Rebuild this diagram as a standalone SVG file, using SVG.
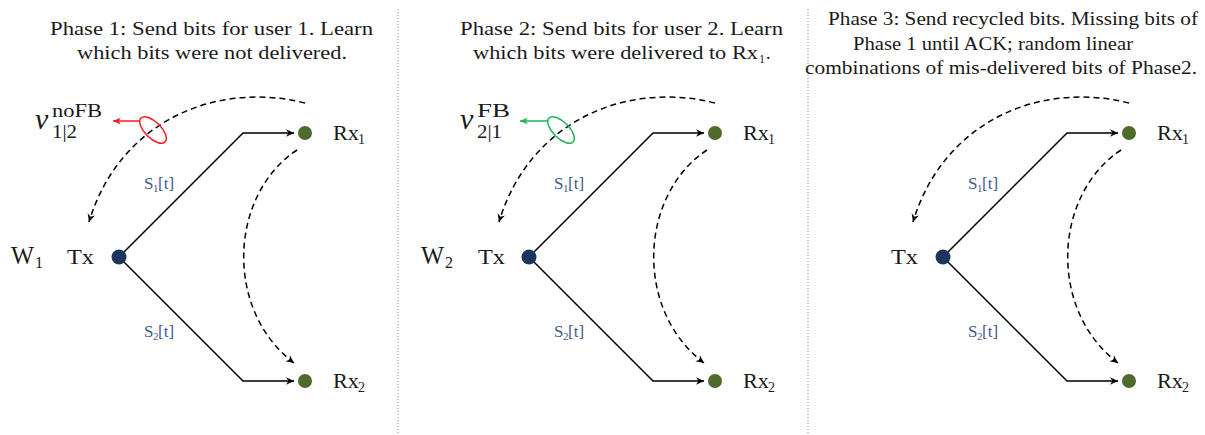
<svg xmlns="http://www.w3.org/2000/svg" width="1205" height="435" viewBox="0 0 1205 435">
<style>
  text { font-family: "Liberation Serif", "Times New Roman", serif; fill: #1a1a1a; }
  .title { font-size: 18px; }
  .lbl { font-size: 20px; }
  .sub { font-size: 14px; }
  .wsub { font-size: 16px; }
  .sl { font-size: 17px; fill: #3f5c8a; }
  .slsub { font-size: 11px; fill: #3f5c8a; }
  .vv { font-size: 30px; font-style: italic; }
  .vs { font-size: 19px; }
  .edge { fill: none; stroke: #000; stroke-width: 1.5; }
  .dash { fill: none; stroke: #000; stroke-width: 1.5; stroke-dasharray: 6 4; }
  .sep { fill: none; stroke: #8a8a8a; stroke-width: 1; stroke-dasharray: 1 2; }
  .tx { fill: #1b365d; }
  .rx { fill: #4f6a2d; }
</style>
<defs>
  <marker id="ah" viewBox="-10 -5 11 10" refX="0" refY="0" markerWidth="11" markerHeight="10" markerUnits="userSpaceOnUse" orient="auto">
    <path d="M0,0 L-8,-3.8 L-5.5,0 L-8,3.8 Z" fill="#000"/>
  </marker>
  <marker id="ahr" viewBox="-10 -5 11 10" refX="0" refY="0" markerWidth="11" markerHeight="10" markerUnits="userSpaceOnUse" orient="auto">
    <path d="M0,0 L-8,-3.5 L-5.5,0 L-8,3.5 Z" fill="#ff1a1a"/>
  </marker>
  <marker id="ahg" viewBox="-10 -5 11 10" refX="0" refY="0" markerWidth="11" markerHeight="10" markerUnits="userSpaceOnUse" orient="auto">
    <path d="M0,0 L-8,-3.5 L-5.5,0 L-8,3.5 Z" fill="#1fb25a"/>
  </marker>
</defs>

<g id="separators">
  <line class="sep" x1="398" y1="9" x2="398" y2="435"/>
  <line class="sep" x1="808" y1="9" x2="808" y2="435"/>
</g>

<g id="titles">
  <text class="title" x="50" y="35" textLength="323" lengthAdjust="spacingAndGlyphs">Phase 1: Send bits for user 1. Learn</text>
  <text class="title" x="77" y="59" textLength="270" lengthAdjust="spacingAndGlyphs">which bits were not delivered.</text>
  <text class="title" x="460" y="35" textLength="323" lengthAdjust="spacingAndGlyphs">Phase 2: Send bits for user 2. Learn</text>
  <text class="title" x="473" y="59" textLength="285" lengthAdjust="spacingAndGlyphs">which bits were delivered to Rx</text>
  <text class="title" x="759" y="63" style="font-size:12px">1</text>
  <text class="title" x="766" y="59">.</text>
  <text class="title" x="828" y="25" textLength="370" lengthAdjust="spacingAndGlyphs">Phase 3: Send recycled bits. Missing bits of</text>
  <text class="title" x="853" y="50" textLength="280" lengthAdjust="spacingAndGlyphs">Phase 1 until ACK; random linear</text>
  <text class="title" x="805" y="74" textLength="392" lengthAdjust="spacingAndGlyphs">combinations of mis-delivered bits of Phase2.</text>
</g>

<!-- ===== Panel 1 ===== -->
<g id="connectors-p1">
  <path class="edge" d="M119,257 L243,133 L294,133" marker-end="url(#ah)"/>
  <path class="edge" d="M119,257 L243,381 L294,381" marker-end="url(#ah)"/>
  <path class="dash" d="M305,103 C215,80.5 119,122 89,222" marker-end="url(#ah)"/>
  <path class="dash" d="M297,150 C229,195 224,310 294,363" marker-end="url(#ah)"/>
  <ellipse cx="153" cy="130" rx="17" ry="8" transform="rotate(45 153 130)" fill="none" stroke="#ff1a1a" stroke-width="1.5"/>
  <line x1="140" y1="121" x2="113" y2="121" stroke="#ff1a1a" stroke-width="1.5" marker-end="url(#ahr)"/>
</g>
<g id="p1-tx">
  <circle class="tx" cx="119" cy="257" r="7.5"/>
  <text class="lbl" x="67" y="264" textLength="27" lengthAdjust="spacingAndGlyphs">Tx</text>
</g>
<g id="p1-w">
  <text x="11" y="264" style="font-size:25px" textLength="23" lengthAdjust="spacingAndGlyphs">W</text>
  <text class="wsub" x="35" y="268">1</text>
</g>
<g id="p1-rx1">
  <circle class="rx" cx="305" cy="133" r="7"/>
  <text class="lbl" x="333" y="140" textLength="26" lengthAdjust="spacingAndGlyphs">Rx</text>
  <text class="sub" x="358" y="144">1</text>
</g>
<g id="p1-rx2">
  <circle class="rx" cx="305" cy="381" r="7"/>
  <text class="lbl" x="333" y="388" textLength="26" lengthAdjust="spacingAndGlyphs">Rx</text>
  <text class="sub" x="358" y="392">2</text>
</g>
<g id="p1-s1">
  <text class="sl" x="144" y="189">S</text><text class="slsub" x="153" y="192">1</text><text class="sl" x="158" y="189">[t]</text>
</g>
<g id="p1-s2">
  <text class="sl" x="144" y="337">S</text><text class="slsub" x="153" y="340">2</text><text class="sl" x="158" y="337">[t]</text>
</g>
<g id="p1-v">
  <text class="vv" x="35" y="129">v</text>
  <text class="vs" x="52" y="117" textLength="50" lengthAdjust="spacingAndGlyphs">noFB</text>
  <text class="vs" x="52" y="138" textLength="25" lengthAdjust="spacingAndGlyphs">1|2</text>
</g>

<!-- ===== Panel 2 ===== -->
<g id="connectors-p2">
  <path class="edge" d="M529,257 L653,133 L704,133" marker-end="url(#ah)"/>
  <path class="edge" d="M529,257 L653,381 L704,381" marker-end="url(#ah)"/>
  <path class="dash" d="M715,103 C625,80.5 529,122 499,222" marker-end="url(#ah)"/>
  <path class="dash" d="M707,150 C639,195 634,310 704,363" marker-end="url(#ah)"/>
  <ellipse cx="561" cy="130" rx="17" ry="8" transform="rotate(45 561 130)" fill="none" stroke="#1fb25a" stroke-width="1.5"/>
  <line x1="548" y1="121" x2="520" y2="121" stroke="#1fb25a" stroke-width="1.5" marker-end="url(#ahg)"/>
</g>
<g id="p2-tx">
  <circle class="tx" cx="529" cy="257" r="7.5"/>
  <text class="lbl" x="478" y="264" textLength="27" lengthAdjust="spacingAndGlyphs">Tx</text>
</g>
<g id="p2-w">
  <text x="421" y="264" style="font-size:25px" textLength="23" lengthAdjust="spacingAndGlyphs">W</text>
  <text class="wsub" x="445" y="268">2</text>
</g>
<g id="p2-rx1">
  <circle class="rx" cx="715" cy="133" r="7"/>
  <text class="lbl" x="743" y="140" textLength="26" lengthAdjust="spacingAndGlyphs">Rx</text>
  <text class="sub" x="768" y="144">1</text>
</g>
<g id="p2-rx2">
  <circle class="rx" cx="715" cy="381" r="7"/>
  <text class="lbl" x="743" y="388" textLength="26" lengthAdjust="spacingAndGlyphs">Rx</text>
  <text class="sub" x="768" y="392">2</text>
</g>
<g id="p2-s1">
  <text class="sl" x="554" y="189">S</text><text class="slsub" x="563" y="192">1</text><text class="sl" x="568" y="189">[t]</text>
</g>
<g id="p2-s2">
  <text class="sl" x="554" y="337">S</text><text class="slsub" x="563" y="340">2</text><text class="sl" x="568" y="337">[t]</text>
</g>
<g id="p2-v">
  <text class="vv" x="460" y="129">v</text>
  <text class="vs" x="477" y="117" textLength="33" lengthAdjust="spacingAndGlyphs">FB</text>
  <text class="vs" x="477" y="138" textLength="25" lengthAdjust="spacingAndGlyphs">2|1</text>
</g>

<!-- ===== Panel 3 ===== -->
<g id="connectors-p3">
  <path class="edge" d="M943,257 L1067,133 L1118,133" marker-end="url(#ah)"/>
  <path class="edge" d="M943,257 L1067,381 L1118,381" marker-end="url(#ah)"/>
  <path class="dash" d="M1129,103 C1039,80.5 943,122 913,222" marker-end="url(#ah)"/>
  <path class="dash" d="M1121,150 C1053,195 1048,310 1118,363" marker-end="url(#ah)"/>
</g>
<g id="p3-tx">
  <circle class="tx" cx="943" cy="257" r="7.5"/>
  <text class="lbl" x="891" y="264" textLength="27" lengthAdjust="spacingAndGlyphs">Tx</text>
</g>
<g id="p3-rx1">
  <circle class="rx" cx="1129" cy="133" r="7"/>
  <text class="lbl" x="1157" y="140" textLength="26" lengthAdjust="spacingAndGlyphs">Rx</text>
  <text class="sub" x="1182" y="144">1</text>
</g>
<g id="p3-rx2">
  <circle class="rx" cx="1129" cy="381" r="7"/>
  <text class="lbl" x="1157" y="388" textLength="26" lengthAdjust="spacingAndGlyphs">Rx</text>
  <text class="sub" x="1182" y="392">2</text>
</g>
<g id="p3-s1">
  <text class="sl" x="968" y="189">S</text><text class="slsub" x="977" y="192">1</text><text class="sl" x="982" y="189">[t]</text>
</g>
<g id="p3-s2">
  <text class="sl" x="968" y="337">S</text><text class="slsub" x="977" y="340">2</text><text class="sl" x="982" y="337">[t]</text>
</g>
</svg>
